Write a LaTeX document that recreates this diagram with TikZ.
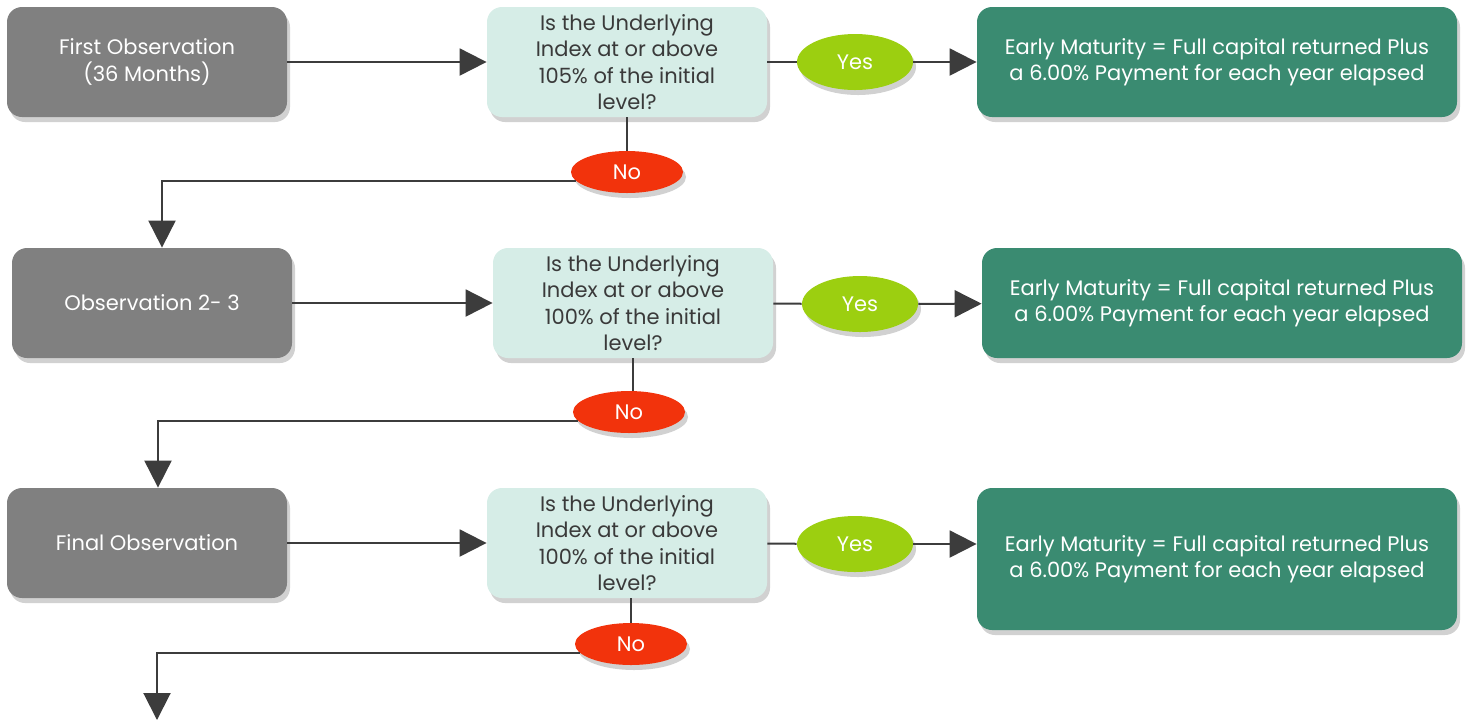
\documentclass[tikz,border=0pt]{standalone}
\usepackage{fontspec}
\setmainfont{Poppins}
\usepackage{tikz}
\usetikzlibrary{arrows.meta,shapes.geometric,shadows}

\definecolor{obsgray}{HTML}{808080}
\definecolor{askmint}{HTML}{D6EDE7}
\definecolor{asktext}{HTML}{3A3A3A}
\definecolor{yesgreen}{HTML}{9CCF10}
\definecolor{nored}{HTML}{F2330C}
\definecolor{paygreen}{HTML}{3A8B71}
\definecolor{linegray}{HTML}{3C3C3C}

\tikzset{
  boxshadow/.style={drop shadow={shadow xshift=1.5pt,shadow yshift=-2.5pt,opacity=0.18,fill=black}},
  obsbox/.style={rectangle,rounded corners=7.5pt,fill=obsgray,text=white,
    minimum width=140pt,minimum height=55pt,align=center,boxshadow},
  askbox/.style={rectangle,rounded corners=7.5pt,fill=askmint,text=asktext,
    minimum width=140pt,minimum height=55pt,align=center,boxshadow},
  paybox/.style={rectangle,rounded corners=7.5pt,fill=paygreen,text=white,
    minimum width=240pt,minimum height=55pt,align=center,boxshadow},
  yesnode/.style={ellipse,fill=yesgreen,text=white,minimum width=58pt,
    minimum height=28pt,inner sep=0pt,boxshadow},
  nonode/.style={ellipse,fill=nored,text=white,minimum width=56pt,
    minimum height=21pt,inner sep=0pt,boxshadow},
  link/.style={draw=linegray,line width=1pt},
  flow/.style={link,-{Triangle[length=13.5pt,width=13.5pt]}}
}

\begin{document}
\begin{tikzpicture}[x=0.5pt,y=-0.5pt,font=\fontsize{10.5}{13.1}\selectfont]
  \useasboundingbox (0,0) rectangle (1473,725);
  % first observation
  \node[obsbox] (obs-1) at (147,62) {First Observation\\(36 Months)};
  \node[askbox] (ask-1) at (627,62) {Is the Underlying\\Index at or above\\105\% of the initial\\level?};
  \node[yesnode] (yes-1) at (855,62) {Yes};
  \node[paybox] (pay-1) at (1217,62) {Early Maturity = Full capital returned Plus\\a 6.00\% Payment for each year elapsed};
  \node[nonode] (no-1) at (627,172) {No};
  % observation 2-3
  \node[obsbox] (obs-2) at (152,303) {Observation 2- 3};
  \node[askbox] (ask-2) at (633,303) {Is the Underlying\\Index at or above\\100\% of the initial\\level?};
  \node[yesnode] (yes-2) at (860,304) {Yes};
  \node[paybox] (pay-2) at (1222,303) {Early Maturity = Full capital returned Plus\\a 6.00\% Payment for each year elapsed};
  \node[nonode] (no-2) at (629,412) {No};
  % final observation
  \node[obsbox] (obs-3) at (147,543) {Final Observation};
  \node[askbox] (ask-3) at (627,543) {Is the Underlying\\Index at or above\\100\% of the initial\\level?};
  \node[yesnode] (yes-3) at (855,544) {Yes};
  \node[paybox,minimum height=71pt] (pay-3) at (1217,559) {Early Maturity = Full capital returned Plus\\a 6.00\% Payment for each year elapsed};
  \node[nonode] (no-3) at (631,644) {No};
  \coordinate (end-3) at (157,720);

  \draw[flow] (obs-1) -- (ask-1);
  \draw[link] (ask-1) -- (yes-1);
  \draw[flow] (yes-1) -- (pay-1);
  \draw[link] (ask-1) -- (no-1);
  \draw[flow] (no-1.190) -| ([xshift=5pt]obs-2.north);

  \draw[flow] (obs-2) -- (ask-2);
  \draw[link] (ask-2) -- (yes-2);
  \draw[flow] (yes-2) -- (pay-2);
  \draw[link] (ask-2.south) -- (ask-2.south |- no-2.north);
  \draw[flow] (no-2.190) -| ([xshift=5.5pt]obs-3.north);

  \draw[flow] (obs-3) -- (ask-3);
  \draw[link] (ask-3) -- (yes-3);
  \draw[flow] (yes-3) -- (pay-3.west |- yes-3);
  \draw[link] (ask-3.south -| no-3) -- (no-3);
  \draw[flow] (no-3.190) -| (end-3);
\end{tikzpicture}
\end{document}
